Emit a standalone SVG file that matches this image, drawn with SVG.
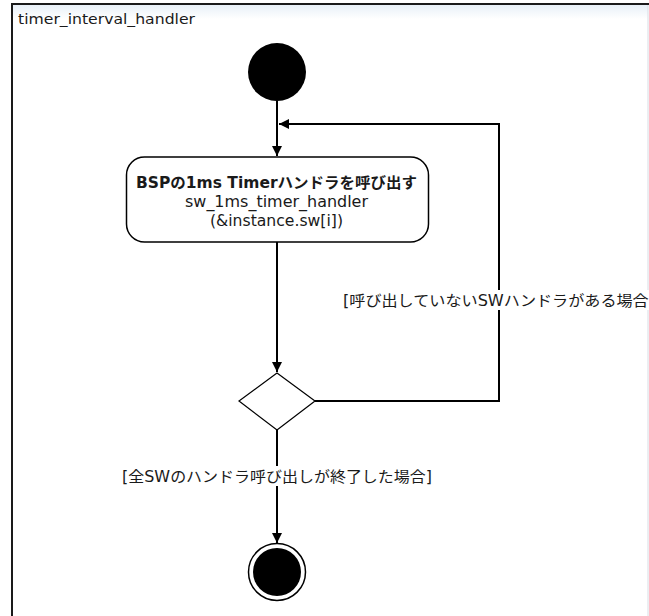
<svg xmlns="http://www.w3.org/2000/svg" width="649" height="616" viewBox="0 0 649 616">
  <defs>
    <marker id="arrow" viewBox="0 0 10 10" refX="10" refY="5" markerWidth="10" markerHeight="10" markerUnits="userSpaceOnUse" orient="auto">
      <path d="M0,0 L10,5 L0,10 Z" fill="#000"/>
    </marker>
    <linearGradient id="hdr" x1="0" y1="0" x2="0" y2="1">
      <stop offset="0" stop-color="#e8f0f8"/>
      <stop offset="1" stop-color="#ffffff"/>
    </linearGradient>
  </defs>
  <style>
    text { font-family: "DejaVu Sans", "Noto Sans CJK JP", sans-serif; fill: #1a1a1a; }
    .edge { fill: none; stroke: #000; stroke-width: 2; }
    .lbl { font-size: 15px; }
    .node { font-size: 15px; }
  </style>
  <rect width="649" height="616" fill="#fff"/>
  <g id="frame">
    <rect x="12" y="5" width="636" height="14" fill="url(#hdr)"/>
    <path d="M12,620 L12,4 L649,4" fill="none" stroke="#1a1a1a" stroke-width="2"/>
    <line x1="648" y1="5" x2="648" y2="616" stroke="#d8dde4" stroke-width="1"/>
    <text x="18" y="24" style="font-size:14.5px" textLength="177" lengthAdjust="spacingAndGlyphs">timer_interval_handler</text>
  </g>
  <g id="connectors">
    <line class="edge" x1="277" y1="101" x2="277" y2="156" marker-end="url(#arrow)"/>
    <line class="edge" x1="277" y1="242" x2="277" y2="372" marker-end="url(#arrow)"/>
    <polyline class="edge" points="315,401 499,401 499,124 279,124" marker-end="url(#arrow)"/>
    <line class="edge" x1="277" y1="430" x2="277" y2="543" marker-end="url(#arrow)"/>
  </g>
  <g id="start">
    <circle cx="277" cy="72" r="29" fill="#000"/>
  </g>
  <g id="action">
    <rect x="126.5" y="157" width="302" height="85" rx="18" ry="18" fill="#fff" stroke="#000" stroke-width="1.5"/>
    <text x="136" y="188" class="node" style="font-weight:bold" textLength="281" lengthAdjust="spacingAndGlyphs">BSPの1ms Timerハンドラを呼び出す</text>
    <text x="185" y="207" class="node" textLength="183" lengthAdjust="spacingAndGlyphs">sw_1ms_timer_handler</text>
    <text x="210" y="226" class="node" textLength="133" lengthAdjust="spacingAndGlyphs">(&amp;instance.sw[i])</text>
  </g>
  <g id="decision">
    <polygon points="277,373 315,401 277,430 239,401" fill="#fff" stroke="#000" stroke-width="1.2"/>
  </g>
  <g id="label-loop">
    <rect x="342" y="290" width="307" height="20" fill="#fff"/>
    <text x="343" y="306" class="lbl" textLength="312" lengthAdjust="spacingAndGlyphs">[呼び出していないSWハンドラがある場合]</text>
  </g>
  <g id="label-end">
    <rect x="122" y="466" width="310" height="20" fill="#fff"/>
    <text x="122" y="482" class="lbl" textLength="310" lengthAdjust="spacingAndGlyphs">[全SWのハンドラ呼び出しが終了した場合]</text>
  </g>
  <g id="end">
    <circle cx="277" cy="572" r="28.5" fill="#fff" stroke="#000" stroke-width="1.5"/>
    <circle cx="277" cy="572" r="24" fill="#000"/>
  </g>
</svg>
